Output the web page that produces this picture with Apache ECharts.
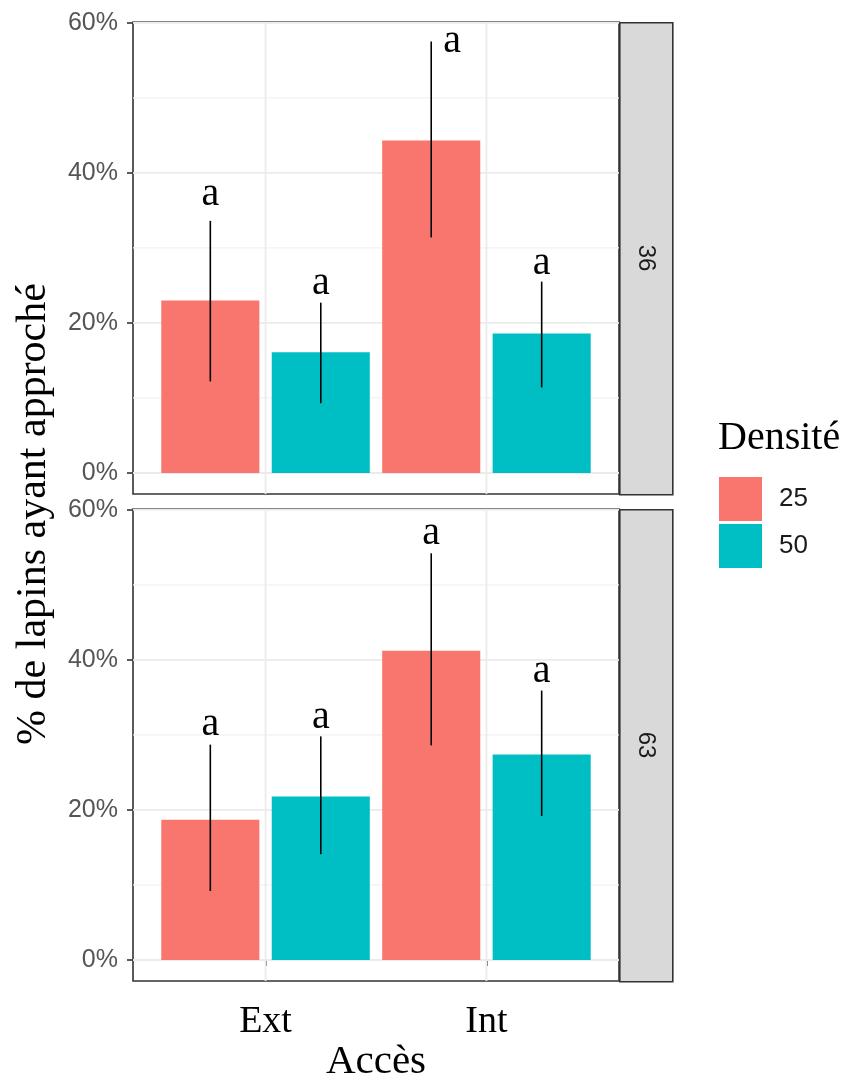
<!DOCTYPE html>
<html><head><meta charset="utf-8">
<script src="https://cdn.jsdelivr.net/npm/echarts@6/dist/echarts.min.js"></script>
<style>html,body{margin:0;padding:0;background:#fff}#c{width:850px;height:1074px}</style>
</head><body><div id="c"></div>
<script>
// ---- data ----
const categories = ['Ext', 'Int'];
const densities = ['25', '50'];
const panels = ['36', '63'];
const yTicks = [0, 0.2, 0.4, 0.6];
const yMinor = [0.1, 0.3, 0.5];
const letters = ['a', 'a'];

// panel 36
const mean36_d25 = [0.230, 0.443];
const low36_d25  = [0.122, 0.314];
const high36_d25 = [0.336, 0.575];
const lab36_d25  = [0.368, 0.573];
const mean36_d50 = [0.161, 0.186];
const low36_d50  = [0.093, 0.114];
const high36_d50 = [0.227, 0.255];
const lab36_d50  = [0.250, 0.277];
// panel 63
const mean63_d25 = [0.187, 0.412];
const low63_d25  = [0.092, 0.286];
const high63_d25 = [0.287, 0.542];
const lab63_d25  = [0.311, 0.566];
const mean63_d50 = [0.218, 0.274];
const low63_d50  = [0.141, 0.192];
const high63_d50 = [0.298, 0.359];
const lab63_d50  = [0.320, 0.382];

// ---- style ----
const colors = ['#F8766D', '#00BFC4'];
const X_MIN = 0.4, X_MAX = 2.6, Y_MIN = -0.028, Y_MAX = 0.601;
const dodge = [-0.25, 0.25];
const barHalf = 0.222;
const labelNudge = { '36-Int-25': 21 };
const gridBoxes = [{ top: 22 }, { top: 509 }];
const PANEL_LEFT = 133, PANEL_W = 486, PANEL_H = 472, STRIP_W = 53;

function makeGridSeries(p) {
  const data = [].concat(
    yMinor.map(v => [0, v]),
    yTicks.map(v => [1, v]),
    categories.map((c, i) => [2, i + 1])
  );
  return {
    type: 'custom', xAxisIndex: p, yAxisIndex: p, silent: true, z: 1, data,
    renderItem(params, api) {
      const k = api.value(0), v = api.value(1);
      let a, b;
      if (k < 2) { a = api.coord([X_MIN, v]); b = api.coord([X_MAX, v]); }
      else { a = api.coord([v, Y_MIN]); b = api.coord([v, Y_MAX]); }
      return { type: 'line', shape: { x1: a[0], y1: a[1], x2: b[0], y2: b[1] },
        style: { stroke: k === 0 ? '#F2F2F2' : '#EBEBEB', lineWidth: k === 0 ? 1.2 : 1.8 } };
    }
  };
}

function makeBarSeries(p, d, mean, low, high, lab) {
  const data = categories.map((c, i) => [i + 1, mean[i], low[i], high[i], lab[i]]);
  return {
    type: 'custom', name: densities[d], xAxisIndex: p, yAxisIndex: p, z: 3, clip: false,
    itemStyle: { color: colors[d] }, encode: { x: 0, y: 1 }, data,
    renderItem(params, api) {
      const x = api.value(0) + dodge[d];
      const tl = api.coord([x - barHalf, api.value(1)]);
      const br = api.coord([x + barHalf, 0]);
      const lo = api.coord([x, api.value(2)]);
      const hi = api.coord([x, api.value(3)]);
      const lb = api.coord([x, api.value(4)]);
      const key = panels[p] + '-' + categories[params.dataIndex] + '-' + densities[d];
      const nudge = labelNudge[key] || 0;
      return { type: 'group', children: [
        { type: 'rect', shape: { x: tl[0], y: tl[1], width: br[0] - tl[0], height: br[1] - tl[1] },
          style: { fill: colors[d] } },
        { type: 'line', shape: { x1: lo[0], y1: lo[1], x2: hi[0], y2: hi[1] },
          style: { stroke: '#000', lineWidth: 1.6 } },
        { type: 'text', x: lb[0] + nudge, y: lb[1] - 2,
          style: { text: letters[params.dataIndex], fill: '#000', fontSize: 40,
            fontFamily: '"Liberation Serif", "Times New Roman", serif', align: 'center', verticalAlign: 'middle' } }
      ] };
    }
  };
}

const grids = gridBoxes.map(g => ({
  left: PANEL_LEFT, top: g.top, width: PANEL_W, height: PANEL_H,
  show: true, borderColor: '#333333', borderWidth: 1.6, backgroundColor: '#fff',
  containLabel: false, outerBoundsMode: 'none'
}));

const xAxes = [0, 1].map(p => ({
  type: 'value', gridIndex: p, min: X_MIN, max: X_MAX,
  axisLine: { show: false }, splitLine: { show: false },
  axisTick: p === 1 ? { show: true, customValues: [1, 2], length: 6, lineStyle: { color: '#333', width: 1.6 } } : { show: false },
  axisLabel: p === 1 ? {
    show: true, customValues: [1, 2], formatter: v => categories[Math.round(v) - 1],
    fontSize: 38, color: '#000', fontFamily: '"Liberation Serif", "Times New Roman", serif', margin: 22
  } : { show: false },
  name: p === 1 ? 'Accès' : '', nameLocation: 'middle', nameGap: 50,
  nameTextStyle: { fontSize: 41, color: '#000', fontFamily: '"Liberation Serif", "Times New Roman", serif' }
}));

const yAxes = [0, 1].map(p => ({
  type: 'value', gridIndex: p, min: Y_MIN, max: Y_MAX,
  axisLine: { show: false }, splitLine: { show: false },
  axisTick: { show: true, customValues: yTicks, length: 6, lineStyle: { color: '#333', width: 1.6 } },
  axisLabel: { show: true, customValues: yTicks, formatter: v => Math.round(v * 100) + '%',
    fontSize: 25, color: '#555555', fontFamily: '"Liberation Sans", Arial, sans-serif', margin: 15 }
}));

const series = [
  makeGridSeries(0), makeGridSeries(1),
  makeBarSeries(0, 0, mean36_d25, low36_d25, high36_d25, lab36_d25),
  makeBarSeries(0, 1, mean36_d50, low36_d50, high36_d50, lab36_d50),
  makeBarSeries(1, 0, mean63_d25, low63_d25, high63_d25, lab63_d25),
  makeBarSeries(1, 1, mean63_d50, low63_d50, high63_d50, lab63_d50)
];

const graphics = [];
gridBoxes.forEach((g, p) => {
  graphics.push({ type: 'rect', left: PANEL_LEFT + PANEL_W, top: g.top, z: 10,
    shape: { width: STRIP_W, height: PANEL_H },
    style: { fill: '#D9D9D9', stroke: '#333333', lineWidth: 1.6 } });
  graphics.push({ type: 'text', x: PANEL_LEFT + PANEL_W + STRIP_W / 2, y: g.top + PANEL_H / 2, rotation: -Math.PI / 2, z: 11,
    style: { text: panels[p], fontSize: 24, fill: '#1A1A1A', fontFamily: '"Liberation Sans", Arial, sans-serif',
      align: 'center', verticalAlign: 'middle' } });
});
graphics.push({ type: 'text', x: 34, y: 514, rotation: Math.PI / 2, z: 11,
  style: { text: '% de lapins ayant approché', fontSize: 42, fill: '#000',
    fontFamily: '"Liberation Serif", "Times New Roman", serif', align: 'center', verticalAlign: 'middle' } });
graphics.push({ type: 'text', x: 718, y: 438, z: 11,
  style: { text: 'Densité', fontSize: 40, fill: '#000',
    fontFamily: '"Liberation Serif", "Times New Roman", serif', align: 'left', verticalAlign: 'middle' } });

const chart = echarts.init(document.getElementById('c'), null, { renderer: 'canvas' });
chart.setOption({
  animation: false,
  backgroundColor: '#fff',
  grid: grids, xAxis: xAxes, yAxis: yAxes, series,
  legend: {
    orient: 'vertical', left: 719, top: 477, padding: 0, itemGap: 3,
    itemWidth: 43, itemHeight: 44, selectedMode: false,
    data: densities.map((d, i) => ({ name: d, icon: 'rect', itemStyle: { color: colors[i] } })),
    textStyle: { fontSize: 26, color: '#1A1A1A', fontFamily: '"Liberation Sans", Arial, sans-serif', padding: [0, 0, 0, 12] }
  },
  graphic: graphics
});
</script></body></html>
